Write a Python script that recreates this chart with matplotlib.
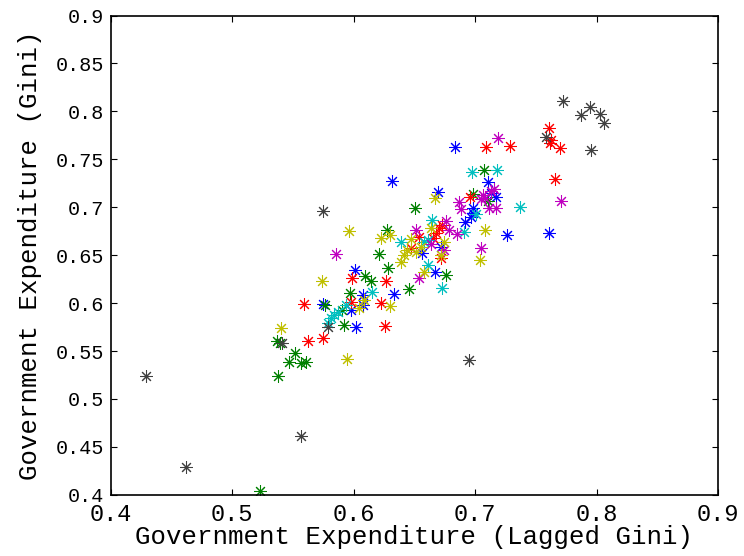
import matplotlib
matplotlib.use('Agg')
import matplotlib.pyplot as plt

# Lagged Gini (x) vs Gini (y) of government expenditure, one colour per group
x_azul = [0.6315, 0.6832, 0.7102, 0.6698, 0.6983, 0.6983, 0.6970, 0.6915, 0.7132, 0.7174,
          0.7266, 0.7605, 0.6717, 0.6672, 0.6566, 0.6013, 0.6331, 0.6073, 0.6073, 0.5978,
          0.5744, 0.6021]
y_azul = [0.7279, 0.7627, 0.7260, 0.7156, 0.6994, 0.6936, 0.6897, 0.6848, 0.7153, 0.7112,
          0.6712, 0.6730, 0.6590, 0.6326, 0.6521, 0.6341, 0.6093, 0.6086, 0.5981, 0.5929,
          0.5992, 0.5752]

x_verde = [0.5230, 0.5380, 0.5370, 0.5389, 0.5516, 0.5465, 0.5567, 0.5605, 0.5767, 0.5901,
           0.5923, 0.5970, 0.6095, 0.6140, 0.6210, 0.6280, 0.6457, 0.6506, 0.6273, 0.6758,
           0.7077, 0.6984, 0.7106]
y_verde = [0.4043, 0.5240, 0.5608, 0.5581, 0.5477, 0.5389, 0.5373, 0.5386, 0.5981, 0.5929,
           0.5772, 0.6107, 0.6284, 0.6227, 0.6517, 0.6364, 0.6145, 0.6997, 0.6767, 0.6294,
           0.7387, 0.7135, 0.7070]

x_rojo = [0.7607, 0.7624, 0.7613, 0.7700, 0.7657, 0.7087, 0.7289, 0.6956, 0.6730, 0.6703,
          0.6676, 0.6656, 0.6539, 0.6722, 0.5983, 0.6270, 0.5976, 0.6222, 0.6255, 0.5594,
          0.5621, 0.5750, 0.6473]
y_rojo = [0.7826, 0.7704, 0.7669, 0.7617, 0.7300, 0.7627, 0.7641, 0.7112, 0.6816, 0.6782,
          0.6730, 0.6677, 0.6688, 0.6469, 0.6260, 0.6235, 0.6013, 0.5999, 0.5757, 0.5995,
          0.5605, 0.5634, 0.6576]

x_cian = [0.6978, 0.7178, 0.7009, 0.7366, 0.6905, 0.6648, 0.6610, 0.6614, 0.6726, 0.6389,
          0.6147, 0.5937, 0.5868, 0.5841, 0.5814, 0.5786, 0.6580]
y_cian = [0.7366, 0.7387, 0.6931, 0.7004, 0.6746, 0.6868, 0.6660, 0.6399, 0.6155, 0.6634,
          0.6117, 0.5981, 0.5911, 0.5877, 0.5842, 0.5790, 0.6642]

x_magenta = [0.7185, 0.7706, 0.6864, 0.6886, 0.7065, 0.7128, 0.7155, 0.7046, 0.7081, 0.7114,
             0.7171, 0.6758, 0.6786, 0.6847, 0.6512, 0.7046, 0.6744, 0.6539, 0.5858, 0.6635]
y_magenta = [0.7724, 0.7067, 0.7060, 0.6980, 0.7129, 0.7171, 0.7189, 0.7085, 0.7095, 0.6989,
             0.6989, 0.6861, 0.6761, 0.6717, 0.6764, 0.6573, 0.6555, 0.6260, 0.6512, 0.6618]

x_amarillo = [0.6671, 0.7084, 0.7038, 0.6717, 0.6744, 0.6635, 0.6580, 0.6553, 0.6512, 0.6471,
              0.6389, 0.6301, 0.6222, 0.5958, 0.5735, 0.5403, 0.5945, 0.6081, 0.6040, 0.6301,
              0.6416, 0.6440]
y_amarillo = [0.7096, 0.6764, 0.6451, 0.6503, 0.6639, 0.6782, 0.6329, 0.6590, 0.6538, 0.6665,
              0.6430, 0.6712, 0.6684, 0.6756, 0.6232, 0.5744, 0.5418, 0.6033, 0.5947, 0.5971,
              0.6505, 0.6555]

x_gris = [0.4288, 0.4616, 0.5567, 0.5744, 0.5791, 0.5411, 0.6950, 0.7722, 0.7868, 0.7950,
          0.8029, 0.8062, 0.7958, 0.7580]
y_gris = [0.5243, 0.4287, 0.4617, 0.6962, 0.5748, 0.5581, 0.5407, 0.8111, 0.7961, 0.8048,
          0.7972, 0.7881, 0.7596, 0.7738]

ticks = [0.4, 0.45, 0.5, 0.55, 0.6, 0.65, 0.7, 0.75, 0.8, 0.85, 0.9]
xticks = [0.4, 0.5, 0.6, 0.7, 0.8, 0.9]

series = [
    (x_azul, y_azul, (0.0, 0.0, 1.0)),
    (x_verde, y_verde, (0.0, 0.5, 0.0)),
    (x_rojo, y_rojo, (1.0, 0.0, 0.0)),
    (x_cian, y_cian, (0.0, 0.75, 0.75)),
    (x_magenta, y_magenta, (0.75, 0.0, 0.75)),
    (x_amarillo, y_amarillo, (0.75, 0.75, 0.0)),
    (x_gris, y_gris, (0.25, 0.25, 0.25)),
]

fuente = 'Liberation Mono'

fig = plt.figure(figsize=(7.44, 5.56), dpi=100)
ax = fig.add_axes([0.149, 0.110, 0.816, 0.862])

# asterisco de 8 brazos, como el '*' de MATLAB
for xs, ys, color in series:
    ax.plot(xs, ys, linestyle='none', marker=(8, 2, 0), markersize=9,
            markeredgewidth=0.75, color=color)

ax.set_xlim(0.4, 0.9)
ax.set_ylim(0.4, 0.9)
ax.set_xticks(xticks)
ax.set_yticks(ticks)
ax.set_xticklabels([f'{t:g}' for t in xticks], fontfamily=fuente, fontsize=17)
ax.set_yticklabels([f'{t:g}' for t in ticks], fontfamily=fuente, fontsize=14.5)

ax.tick_params(direction='in', length=4.3, width=0.8, top=True, right=True,
               colors='black')
ax.tick_params(axis='x', pad=6)
ax.tick_params(axis='y', pad=5)
for s in ax.spines.values():
    s.set_linewidth(1.2)

ax.set_xlabel('Government Expenditure (Lagged Gini)', fontfamily=fuente,
              fontsize=18.5, labelpad=-1)
ax.set_ylabel('Government Expenditure (Gini)', fontfamily=fuente,
              fontsize=18.5, labelpad=10)

plt.savefig('out.png', dpi=100, facecolor='white')
plt.close()
